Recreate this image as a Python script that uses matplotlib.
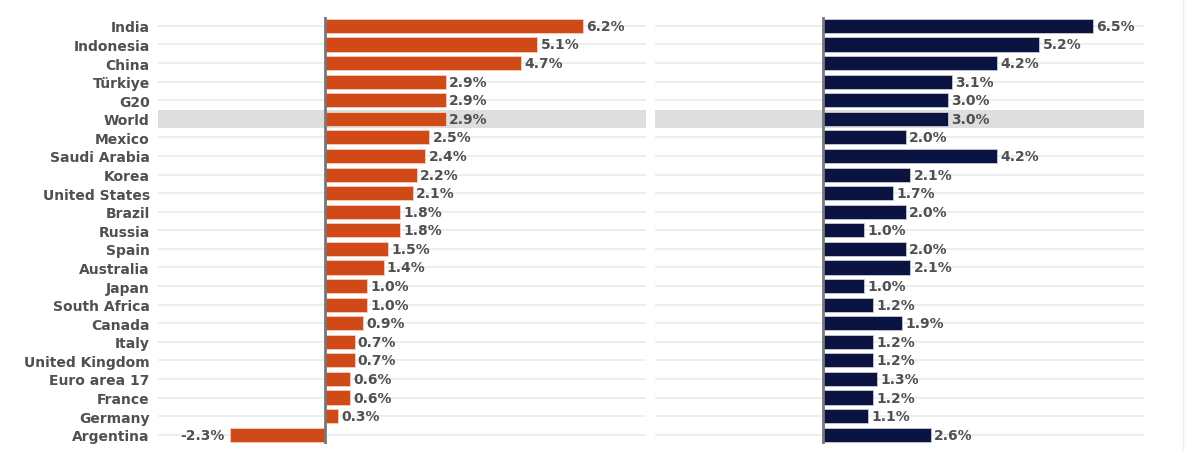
import numpy as np
import matplotlib.pyplot as plt

plt.rcParams['font.family'] = ['DejaVu Sans']

# data
countries = ["India", "Indonesia", "China", "Türkiye", "G20", "World", "Mexico",
             "Saudi Arabia", "Korea", "United States", "Brazil", "Russia", "Spain",
             "Australia", "Japan", "South Africa", "Canada", "Italy", "United Kingdom",
             "Euro area 17", "France", "Germany", "Argentina"]
left_vals = [6.2, 5.1, 4.7, 2.9, 2.9, 2.9, 2.5, 2.4, 2.2, 2.1, 1.8, 1.8, 1.5,
             1.4, 1.0, 1.0, 0.9, 0.7, 0.7, 0.6, 0.6, 0.3, -2.3]
right_vals = [6.5, 5.2, 4.2, 3.1, 3.0, 3.0, 2.0, 4.2, 2.1, 1.7, 2.0, 1.0, 2.0,
              2.1, 1.0, 1.2, 1.9, 1.2, 1.2, 1.3, 1.2, 1.1, 2.6]
highlight = "World"

text_col = '#505050'
fig = plt.figure(figsize=(12, 4.52), dpi=100)
ax1 = fig.add_axes([0.1317, 0.0155, 0.4067, 0.9455])
ax2 = fig.add_axes([0.5458, 0.0155, 0.4075, 0.9455])

pos = np.arange(len(countries))
hi = countries.index(highlight)

for ax, vals, col in [(ax1, left_vals, '#d04a17'), (ax2, right_vals, '#0b1340')]:
    ax.set_xlim(-4.03, 7.72)
    ax.set_ylim(len(countries) - 0.5, -0.5)
    # grid lines and highlight band
    for p in pos:
        ax.axhline(p, color='#ebebeb', lw=1.2, zorder=0)
    ax.axhspan(hi - 0.5, hi + 0.5, color='#dedede', lw=0, zorder=0.5)
    ax.barh(pos, vals, height=0.76, color=col, edgecolor='#f3d0c0' if ax is ax1 else '#c8cad6',
            linewidth=0.6, zorder=2)
    ax.axvline(0, color='#777777', lw=2, zorder=3)
    for p, v in zip(pos, vals):
        if v >= 0:
            ax.text(v + 0.08, p, '%.1f%%' % v, ha='left', va='center', fontsize=10,
                    fontweight='bold', color=text_col, zorder=4)
        else:
            ax.text(v - 0.12, p, '%.1f%%' % v, ha='right', va='center', fontsize=10,
                    fontweight='bold', color=text_col, zorder=4)
    ax.set_xticks([])
    for s in ax.spines.values():
        s.set_visible(False)

ax1.set_yticks(pos)
ax1.set_yticklabels(countries, fontsize=10, fontweight='bold', color=text_col)
ax1.tick_params(axis='y', length=0, pad=6)
ax2.set_yticks([])

fig.add_artist(plt.Line2D([0.986, 0.986], [0.0, 1.0], color='#eeeeee', lw=1))

fig.savefig('out.png', dpi=100)
